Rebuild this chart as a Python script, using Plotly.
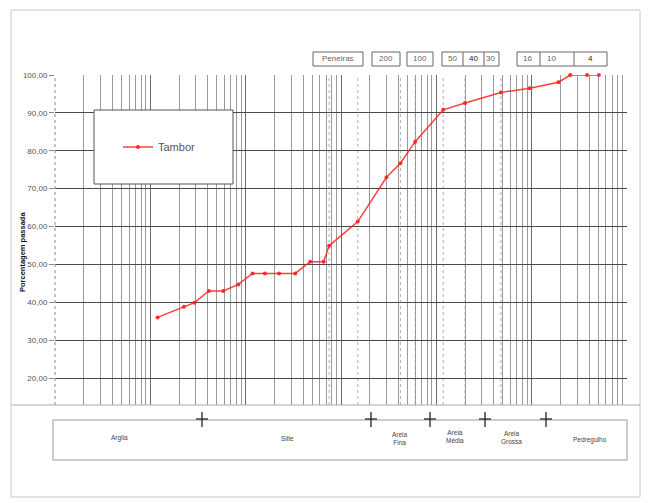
import plotly.graph_objects as go

# Grain-size distribution (curva granulométrica) of sample "Tambor"
# Sedimentation (hydrometer) readings, diameter in mm / % passing
sed_diam = [0.00119, 0.00225, 0.0029, 0.00411, 0.00582, 0.00838, 0.0118,
            0.0159, 0.0224, 0.0331, 0.0475, 0.0658]
sed_pass = [36.0, 38.8, 39.9, 43.0, 43.0, 44.7, 47.6, 47.6, 47.6, 47.6, 50.7, 50.7]

# Sieve readings
sieve_diam = [0.075, 0.15, 0.3, 0.42, 0.6, 1.18, 2.0, 4.76, 9.5, 19.1, 25.4, 38.1, 50.8]
sieve_pass = [54.9, 61.3, 73.0, 76.7, 82.4, 90.8, 92.6, 95.4, 96.5, 98.1, 100.0, 100.0, 100.0]

# Sieve openings marked on the grid and the sieve numbers shown above it
sieve_lines = [0.075, 0.15, 0.3, 0.42, 0.6, 1.18, 2.0, 4.76]
sieve_labels = ["Peneiras", "200", "100", "50", "40", "30", "16", "10", "4"]

y_ticks = [20, 30, 40, 50, 60, 70, 80, 90, 100]
y_text = [f"{v:.2f}".replace(".", ",") for v in y_ticks]

soil_classes = ["Argila", "Silte", "Areia<br>Fina", "Areia<br>Média", "Areia<br>Grossa", "Pedregulho"]

W, H = 650, 503
L, R, T, B = 55, 627, 75, 405  # plot area in pixels


def px(x):
    return (x - L) / (R - L)


def py(y):
    return (B - y) / (B - T)


FONT = "Liberation Sans, Arial, sans-serif"

fig = go.Figure()
fig.add_trace(go.Scatter(
    x=sed_diam + sieve_diam, y=sed_pass + sieve_pass,
    mode="lines+markers", name="Tambor",
    line=dict(color="rgba(255,30,30,0.85)", width=1.5),
    marker=dict(color="rgba(255,30,30,0.9)", size=4),
    cliponaxis=False,
))

shapes = []
# dotted verticals at sieve openings
for d in sieve_lines:
    shapes.append(dict(type="line", xref="x", yref="paper", x0=d, x1=d, y0=0, y1=1,
                       line=dict(color="#b0b0b0", width=1, dash="dot"), layer="below"))
# dotted left axis line
shapes.append(dict(type="line", xref="paper", yref="paper", x0=0, x1=0, y0=0, y1=1,
                   line=dict(color="#888", width=1, dash="dot")))

# outer frame and divider above the classification table
shapes.append(dict(type="rect", xref="paper", yref="paper", x0=px(11), x1=px(640),
                   y0=py(497), y1=py(10), line=dict(color="#c8c8c8", width=1)))
shapes.append(dict(type="line", xref="paper", yref="paper", x0=px(12), x1=px(640),
                   y0=0, y1=0, line=dict(color="#aaaaaa", width=1.2)))

# legend frame
shapes.append(dict(type="rect", xref="paper", yref="paper", x0=px(94), x1=px(233),
                   y0=py(184), y1=py(110), fillcolor="white",
                   line=dict(color="#555", width=1), layer="above"))

# sieve label boxes above the plot
box_groups = [(313, 363, []), (372, 400, []), (407, 433, []),
              (442, 499, [463, 484]), (517, 607, [540, 574])]
for x0, x1, divs in box_groups:
    shapes.append(dict(type="rect", xref="paper", yref="paper", x0=px(x0), x1=px(x1),
                       y0=py(66), y1=py(52), fillcolor="white",
                       line=dict(color="#666", width=1)))
    for dv in divs:
        shapes.append(dict(type="line", xref="paper", yref="paper", x0=px(dv), x1=px(dv),
                           y0=py(66), y1=py(52), line=dict(color="#666", width=1)))

# classification table
shapes.append(dict(type="rect", xref="paper", yref="paper", x0=px(53), x1=px(627),
                   y0=py(460), y1=py(420), line=dict(color="#999", width=1)))
for cx in [202, 371, 430, 485, 546]:
    shapes.append(dict(type="line", xref="paper", yref="paper", x0=px(cx - 6), x1=px(cx + 6),
                       y0=py(419), y1=py(419), line=dict(color="#222", width=1.3)))
    shapes.append(dict(type="line", xref="paper", yref="paper", x0=px(cx), x1=px(cx),
                       y0=py(412), y1=py(427), line=dict(color="#222", width=1.3)))

annotations = []
label_pos = [338, 386, 420, 452, 473, 491, 527, 551, 590]
for txt, xp in zip(sieve_labels, label_pos):
    bold = txt in ("40", "4")
    annotations.append(dict(xref="paper", yref="paper", x=px(xp), y=py(59), text=txt,
                            showarrow=False, xanchor="center", yanchor="middle",
                            font=dict(family=FONT, size=8, color="#222" if bold else "#666")))

class_pos = [(119, 438), (287, 438), (400, 438), (455, 436), (511, 437), (590, 440)]
for txt, (xp, yp) in zip(soil_classes, class_pos):
    annotations.append(dict(xref="paper", yref="paper", x=px(xp), y=py(yp), text=txt,
                            showarrow=False, xanchor="center", yanchor="middle",
                            font=dict(family=FONT, size=6.5, color="#444")))

annotations.append(dict(xref="paper", yref="paper", x=px(22), y=py(252),
                        text="<b>Porcentagem passada</b>", textangle=-90, showarrow=False,
                        xanchor="center", yanchor="middle",
                        font=dict(family=FONT, size=7.5, color="#111")))

fig.update_layout(
    width=W, height=H,
    margin=dict(l=L, r=W - R, t=T, b=H - B),
    paper_bgcolor="white", plot_bgcolor="white",
    showlegend=True,
    legend=dict(x=px(118), y=py(147), xanchor="left", yanchor="middle",
                bgcolor="rgba(0,0,0,0)", borderwidth=0,
                font=dict(family=FONT, size=11, color="#555")),
    xaxis=dict(type="log", range=[-4, 2], dtick=1, showticklabels=False, ticks="",
               showgrid=True, gridcolor="#6a6a6a", gridwidth=1, zeroline=False,
               showline=False,
               minor=dict(dtick="D1", showgrid=True, gridcolor="#9a9a9a", gridwidth=1)),
    yaxis=dict(range=[12.87, 100], tickvals=y_ticks, ticktext=y_text,
               ticks="outside", ticklen=5, tickcolor="#888",
               showgrid=True, gridcolor="#4a4a4a", gridwidth=1, zeroline=False,
               showline=False,
               tickfont=dict(family=FONT, size=8, color="#555")),
    shapes=shapes,
    annotations=annotations,
)

fig.write_html("out.html")
